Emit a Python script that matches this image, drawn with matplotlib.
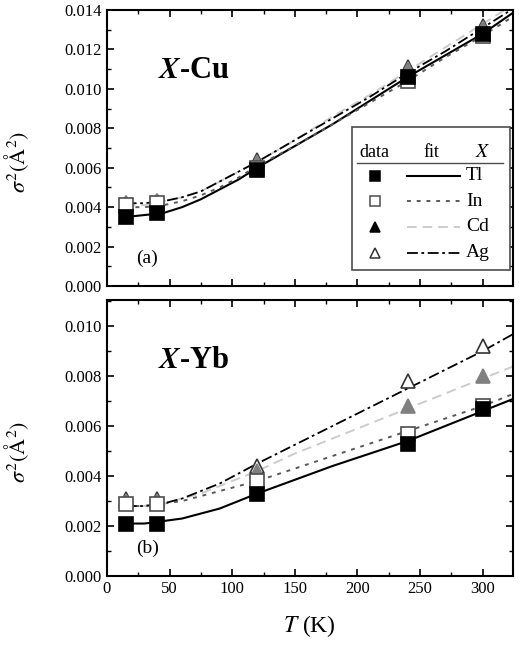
import matplotlib
matplotlib.use('Agg')
import matplotlib.pyplot as plt
from matplotlib.lines import Line2D
from matplotlib.ticker import MultipleLocator, FormatStrFormatter

plt.rcParams['font.family'] = ['Liberation Serif', 'DejaVu Serif']
plt.rcParams['mathtext.fontset'] = 'stix'

# measured temperatures
T = [15, 40, 120, 240, 300]
# temperatures at which the fit curves were read
T_fit = [15, 30, 45, 60, 75, 90, 105, 120, 150, 180, 210, 240, 270, 300, 325]

# (a) X-Cu
cu_Tl = [0.0035, 0.0037, 0.0059, 0.0106, 0.0128]
cu_In = [0.0041, 0.0042, 0.0060, 0.0104, 0.0127]
cu_Cd = [0.0042, 0.0043, 0.0063, 0.0110, 0.0131]
cu_Ag = [0.0042, 0.0043, 0.0064, 0.0111, 0.0132]
cu_fit_Tl = [0.0035, 0.0036, 0.0037, 0.0040, 0.0044, 0.0049, 0.0054, 0.0060, 0.0071, 0.0082, 0.0094, 0.0106, 0.0117, 0.0128, 0.0139]
cu_fit_In = [0.0040, 0.0040, 0.0041, 0.0043, 0.0046, 0.0050, 0.0055, 0.0061, 0.0071, 0.0082, 0.0093, 0.0104, 0.0116, 0.0127, 0.0137]
cu_fit_Cd = [0.0041, 0.0041, 0.0043, 0.0045, 0.0048, 0.0053, 0.0058, 0.0063, 0.0074, 0.0086, 0.0097, 0.0109, 0.0121, 0.0133, 0.0143]
cu_fit_Ag = [0.0042, 0.0042, 0.0043, 0.0045, 0.0048, 0.0053, 0.0058, 0.0063, 0.0074, 0.0085, 0.0096, 0.0108, 0.0119, 0.0131, 0.0141]

# (b) X-Yb
yb_Tl = [0.0021, 0.0021, 0.0033, 0.0053, 0.0067]
yb_In = [0.0029, 0.0029, 0.0038, 0.0057, 0.0068]
yb_Cd = [0.0030, 0.0030, 0.0042, 0.0068, 0.0080]
yb_Ag = [0.0031, 0.0031, 0.0044, 0.0078, 0.0092]
yb_fit_Tl = [0.0021, 0.0021, 0.0022, 0.0023, 0.0025, 0.0027, 0.0030, 0.0033, 0.00385, 0.0044, 0.0049, 0.0054, 0.0060, 0.0066, 0.0071]
yb_fit_In = [0.0028, 0.0028, 0.0029, 0.0030, 0.0032, 0.0034, 0.0036, 0.0038, 0.0043, 0.0048, 0.0053, 0.0058, 0.0063, 0.0068, 0.0073]
yb_fit_Cd = [0.0028, 0.0028, 0.0029, 0.0031, 0.0033, 0.0036, 0.0039, 0.0042, 0.0049, 0.0055, 0.0061, 0.0067, 0.0073, 0.0079, 0.0084]
yb_fit_Ag = [0.0028, 0.0028, 0.0029, 0.0031, 0.0034, 0.0037, 0.0041, 0.0045, 0.00525, 0.0060, 0.00675, 0.0075, 0.00825, 0.0090, 0.0097]

labels = ['Tl', 'In', 'Cd', 'Ag']
line_styles = [dict(color='black', ls='-', lw=1.5),
               dict(color='0.35', ls=(0, (2, 3)), lw=1.4),
               dict(color='0.8', ls=(0, (5, 3)), lw=1.4),
               dict(color='black', ls=(0, (6, 2, 1.5, 2)), lw=1.3)]
marker_styles = [dict(marker='s', mfc='black', mec='black'),
                 dict(marker='s', mfc='white', mec='0.3'),
                 dict(marker='^', mfc='0.5', mec='0.5'),
                 dict(marker='^', mfc='white', mec='0.2')]

fig = plt.figure(figsize=(5.32, 6.5), dpi=100)
ax1 = fig.add_axes([0.201, 0.56, 0.763, 0.4246])
ax2 = fig.add_axes([0.201, 0.1138, 0.763, 0.4246])


def panel(ax, data, fits, name, tag, ymax):
    for fit, st in zip(fits, line_styles):
        ax.plot(T_fit, fit, **st, zorder=2)
    for i in [3, 2, 1, 0]:
        ax.plot(T, data[i], ls='none', ms=9.5, mew=1.2, zorder=3, **marker_styles[i])
    ax.set_xlim(0, 324)
    ax.set_ylim(0, ymax)
    ax.xaxis.set_major_locator(MultipleLocator(50))
    ax.xaxis.set_minor_locator(MultipleLocator(25))
    ax.yaxis.set_major_locator(MultipleLocator(0.002))
    ax.yaxis.set_minor_locator(MultipleLocator(0.001))
    ax.yaxis.set_major_formatter(FormatStrFormatter('%.3f'))
    ax.tick_params(which='both', direction='in', top=True, right=True, labelsize=12, colors='black')
    ax.tick_params(which='major', length=5, width=1.2)
    ax.tick_params(which='minor', length=3, width=1)
    for s in ax.spines.values():
        s.set_linewidth(1.5)
    ax.text(0.125, 0.78, r'$\boldsymbol{X}$' + '-' + name, transform=ax.transAxes,
            fontsize=22, fontweight='bold', va='center')
    ax.text(0.073, 0.1, tag, transform=ax.transAxes, fontsize=14, va='center')
    ax.set_ylabel(r'$\sigma^2(\mathrm{\AA}^2)$', fontsize=16)
    ax.yaxis.set_label_coords(-0.187, 0.45)


panel(ax1, [cu_Tl, cu_In, cu_Cd, cu_Ag], [cu_fit_Tl, cu_fit_In, cu_fit_Cd, cu_fit_Ag],
      'Cu', '(a)', 0.014)
panel(ax2, [yb_Tl, yb_In, yb_Cd, yb_Ag], [yb_fit_Tl, yb_fit_In, yb_fit_Cd, yb_fit_Ag],
      'Yb', '(b)', 0.01104)
ax1.set_xticklabels([])
ax2.set_xlabel(r'$T$ (K)', fontsize=17, labelpad=12)

# legend box drawn in axes fraction of panel (a)
tr = ax1.transAxes
ax1.add_patch(plt.Rectangle((0.603, 0.058), 0.39, 0.518, transform=tr,
                            fill=True, fc='white', ec='0.3', lw=1.2, zorder=4))
hy = 0.482
ax1.text(0.66, hy, 'data', transform=tr, ha='center', va='center', fontsize=13, zorder=5)
ax1.text(0.80, hy, 'fit', transform=tr, ha='center', va='center', fontsize=13, zorder=5)
ax1.text(0.925, hy, r'$X$', transform=tr, ha='center', va='center', fontsize=14, zorder=5)
ax1.add_line(Line2D([0.615, 0.975], [0.445, 0.445], transform=tr, color='0.3', lw=1, zorder=5))
legend_markers = [dict(marker='s', mfc='black', mec='black'),
                  dict(marker='s', mfc='white', mec='0.3'),
                  dict(marker='^', mfc='black', mec='black'),
                  dict(marker='^', mfc='white', mec='0.2')]
for k, lab in enumerate(labels):
    yy = 0.4 - k * 0.093
    ax1.add_line(Line2D([0.66], [yy], transform=tr, ls='none', ms=7, mew=1.1,
                        zorder=5, **legend_markers[k]))
    ax1.add_line(Line2D([0.74, 0.87], [yy, yy], transform=tr, zorder=5, **line_styles[k]))
    ax1.text(0.885, yy, lab, transform=tr, ha='left', va='center', fontsize=14, zorder=5)

fig.savefig('out.png', dpi=100)
